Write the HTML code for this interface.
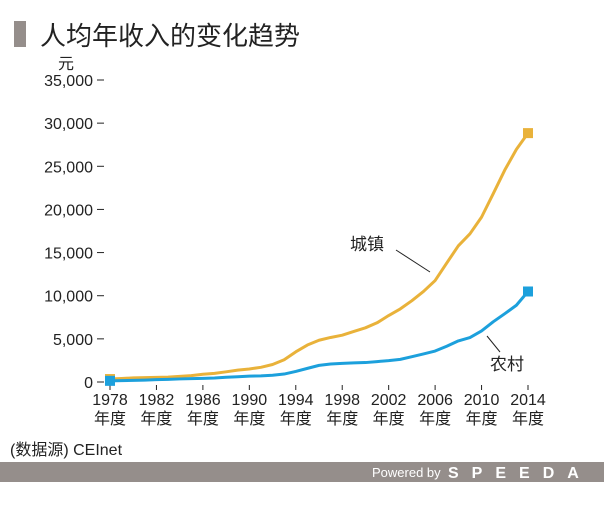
<!DOCTYPE html>
<html><head><meta charset="utf-8"><style>
body{margin:0;background:#fff;width:604px;height:504px;overflow:hidden;font-family:"Liberation Sans","Noto Sans CJK SC",sans-serif;}
svg text{font-family:"Liberation Sans","Noto Sans CJK SC",sans-serif;fill:#222;}
</style></head><body>
<svg width="604" height="504">
<rect x="14" y="21" width="12" height="26" fill="#958e8b"/>
<text x="40" y="45" font-size="26">人均年收入的变化趋势</text>
<text x="58" y="69" font-size="16">元</text>
<g id="yaxis"></g><g id="xaxis"></g><g id="series"></g>
<text x="350" y="250" font-size="17">城镇</text>
<line x1="396" y1="250" x2="430" y2="272" stroke="#222" stroke-width="1"/>
<text x="490" y="370" font-size="17">农村</text>
<line x1="500" y1="352" x2="487" y2="336" stroke="#222" stroke-width="1"/>
<text x="10" y="455" font-size="16">(数据源) CEInet</text>
<rect x="0" y="462" width="604" height="20" fill="#958e8b"/>
<text x="372" y="477" font-size="13" style="fill:#fff">Powered by</text>
<text x="448" y="478" font-size="16" font-weight="bold" letter-spacing="13" style="fill:#fff">SPEEDA</text>
</svg>
<script>
const years=[1978,1979,1980,1981,1982,1983,1984,1985,1986,1987,1988,1989,1990,1991,1992,1993,1994,1995,1996,1997,1998,1999,2000,2001,2002,2003,2004,2005,2006,2007,2008,2009,2010,2011,2012,2013,2014];
const urban=[343,405,478,500,535,565,652,739,900,1002,1180,1374,1510,1701,2027,2577,3496,4283,4839,5160,5425,5854,6280,6860,7703,8472,9422,10493,11759,13786,15781,17175,19109,21810,24565,26955,28844];
const rural=[134,160,191,223,270,310,355,398,424,463,545,602,686,709,784,922,1221,1578,1926,2090,2162,2210,2253,2366,2476,2622,2936,3255,3587,4140,4761,5153,5919,6977,7917,8896,10489];
const yTicks=[0,5000,10000,15000,20000,25000,30000,35000];
const xTicks=[1978,1982,1986,1990,1994,1998,2002,2006,2010,2014];
const NS="http://www.w3.org/2000/svg";
const X=y=>110+(y-1978)*(528-110)/36;
const Y=v=>382-v*(382-80)/35000;
function mk(t,a,p){const e=document.createElementNS(NS,t);for(const k in a)e.setAttribute(k,a[k]);p.appendChild(e);return e;}
const ya=document.getElementById('yaxis');
yTicks.forEach(v=>{
 const t=mk('text',{x:93,y:Y(v)+6,'font-size':16,'text-anchor':'end'},ya);t.textContent=v.toLocaleString('en-US');
 
 
 const l=mk('line',{x1:97,x2:104,y1:Y(v),y2:Y(v),stroke:'#222'},ya);
 
 
});
const xa=document.getElementById('xaxis');
xTicks.forEach(y=>{
 const t=mk('text',{x:X(y),y:405,'font-size':16,'text-anchor':'middle'},xa);t.textContent=y;
 
 
 const t2=mk('text',{x:X(y),y:424,'font-size':16,'text-anchor':'middle'},xa);t2.textContent='年度';
 
 
 const l=mk('line',{x1:X(y),x2:X(y),y1:385,y2:390,stroke:'#222'},xa);
 
 
});
const sg=document.getElementById('series');
[[urban,'#e9b23a','urban'],[rural,'#1ca0dc','rural']].forEach(([d,c,n])=>{
 const p=mk('polyline',{points:d.map((v,i)=>X(years[i])+','+Y(v)).join(' '),fill:'none',stroke:c,'stroke-width':3,'stroke-linejoin':'round'},sg);
 
 
 [0,d.length-1].forEach(i=>{
  const r=mk('rect',{x:X(years[i])-5,y:Y(d[i])-5,width:10,height:10,fill:c},sg);
  
  
 });
});
</script>
</body></html>
